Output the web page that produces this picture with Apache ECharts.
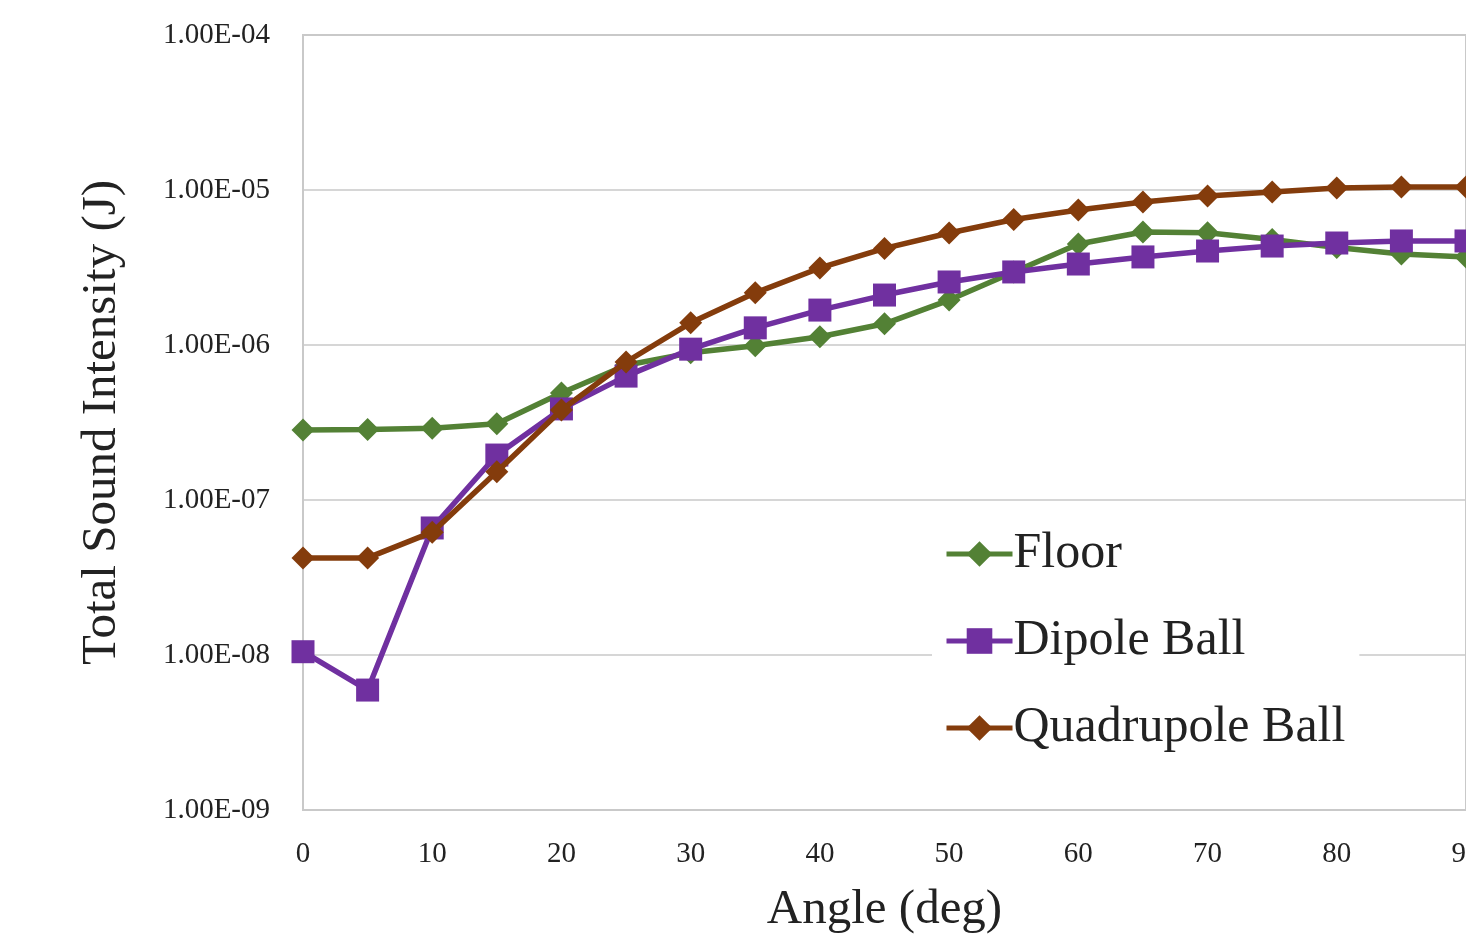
<!DOCTYPE html>
<html>
<head>
<meta charset="utf-8">
<script src="https://cdn.jsdelivr.net/npm/echarts@6/dist/echarts.min.js"></script>
<style>
html,body{margin:0;padding:0;background:#fff;}
#chart{width:1466px;height:949px;}
</style>
</head>
<body>
<div id="chart"></div>
<script>
const angles = [0,5,10,15,20,25,30,35,40,45,50,55,60,65,70,75,80,85,90];
const floor = [2.83e-7,2.85e-7,2.9e-7,3.1e-7,4.9e-7,7.4e-7,8.9e-7,9.9e-7,1.13e-6,1.37e-6,1.95e-6,2.96e-6,4.48e-6,5.36e-6,5.3e-6,4.8e-6,4.25e-6,3.86e-6,3.7e-6];
const dipole = [1.05e-8,5.94e-9,6.6e-8,1.95e-7,3.87e-7,6.3e-7,9.4e-7,1.29e-6,1.68e-6,2.1e-6,2.55e-6,2.96e-6,3.33e-6,3.7e-6,4.04e-6,4.35e-6,4.55e-6,4.69e-6,4.69e-6];
const quadrupole = [4.23e-8,4.23e-8,6.2e-8,1.52e-7,3.81e-7,7.77e-7,1.39e-6,2.17e-6,3.14e-6,4.2e-6,5.28e-6,6.45e-6,7.43e-6,8.37e-6,9.15e-6,9.7e-6,1.03e-5,1.045e-5,1.045e-5];
const seriesNames = ['Floor','Dipole Ball','Quadrupole Ball'];
const xTicks = [0,10,20,30,40,50,60,70,80,90];

const FONT = '"Liberation Serif", "DejaVu Serif", serif';
const chart = echarts.init(document.getElementById('chart'));
const pair = arr => angles.map((a,i)=>[a,arr[i]]);
function fmt(v){
  const e = Math.round(Math.log10(v));
  const s = e < 0 ? '-' : '+';
  const a = Math.abs(e);
  return '1.00E' + s + (a<10?'0':'') + a;
}
chart.setOption({
  animation:false,
  backgroundColor:'#fff',
  grid:{left:303,right:0,top:35,bottom:139,outerBoundsMode:'none',containLabel:false,
    show:true,borderColor:'#c9c9c9',borderWidth:2},
  xAxis:{type:'value',min:0,max:90,interval:10,
    axisLine:{show:true,lineStyle:{color:'#c9c9c9',width:2}},
    axisTick:{show:false},
    splitLine:{show:false},
    axisLabel:{color:'#222',fontFamily:FONT,fontSize:29,margin:30,hideOverlap:false,
      formatter:v=>xTicks.includes(v)?String(v):''},
    name:'Angle (deg)',nameLocation:'middle',nameGap:76,
    nameTextStyle:{color:'#222',fontFamily:FONT,fontSize:49}
  },
  yAxis:{type:'log',logBase:10,min:1e-9,max:1e-4,
    axisLine:{show:true,lineStyle:{color:'#c9c9c9',width:2}},
    axisTick:{show:false},
    splitLine:{show:true,lineStyle:{color:'#c9c9c9',width:1.5}},
    axisLabel:{color:'#222',fontFamily:FONT,fontSize:29,margin:33,formatter:fmt},
    name:'Total Sound Intensity (J)',nameLocation:'middle',nameGap:176,
    nameTextStyle:{color:'#222',fontFamily:FONT,fontSize:49}
  },
  legend:{
    orient:'vertical',left:932,top:523,
    backgroundColor:'#fff',padding:[6,14,6,12],
    itemGap:37,itemWidth:66,itemHeight:32,
    lineStyle:{width:5},
    textStyle:{color:'#222',fontFamily:FONT,fontSize:50,padding:[0,0,0,-4]},
    data:seriesNames
  },
  series:[
    {name:seriesNames[0],type:'line',data:pair(floor),symbol:'diamond',symbolSize:23,
      lineStyle:{color:'#538135',width:5.5},itemStyle:{color:'#538135'},z:3},
    {name:seriesNames[1],type:'line',data:pair(dipole),symbol:'rect',symbolSize:23,
      lineStyle:{color:'#7030a0',width:5.5},itemStyle:{color:'#7030a0'},z:4},
    {name:seriesNames[2],type:'line',data:pair(quadrupole),symbol:'diamond',symbolSize:23,
      lineStyle:{color:'#843c0c',width:5.5},itemStyle:{color:'#843c0c'},z:5}
  ]
});
</script>
</body>
</html>
